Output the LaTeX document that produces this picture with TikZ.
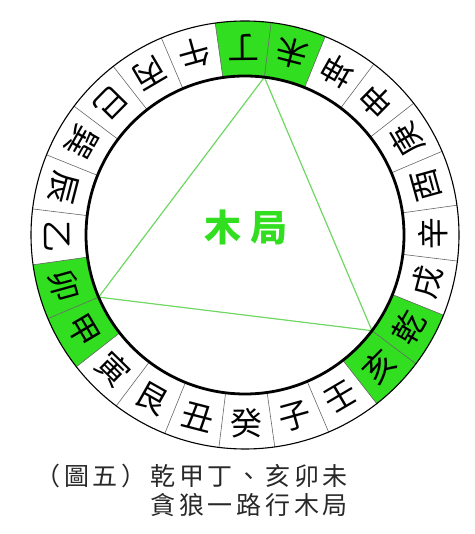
\documentclass[tikz,border=0pt]{standalone}
\usepackage{fontspec}
\newfontfamily\cjk{Noto Sans CJK TC}
\definecolor{ringgreen}{RGB}{50,222,32}
\definecolor{trigreen}{RGB}{112,214,100}
\definecolor{captiongray}{RGB}{40,40,40}

\begin{document}
\begin{tikzpicture}[x=1pt,y=1pt,
    sector/.style={fill=ringgreen},
    divider/.style={gray!80!black,line width=0.6pt},
    mountain/.style={font=\cjk\fontsize{32}{32}\selectfont,inner sep=0pt},
    caption/.style={font=\cjk\fontsize{25}{25}\selectfont\addfontfeature{LetterSpace=15},
      text=captiongray,inner sep=0pt,anchor=east}]
    \useasboundingbox (-245,-299) rectangle (229,235);
    
    % green sectors
    \foreach \k in {0,7,8,15,16,23}
    \fill[sector] ({83+15*\k}:214) arc[start angle={83+15*\k},delta angle=15,radius=214]
    -- ({98+15*\k}:159) arc[start angle={98+15*\k},delta angle=-15,radius=159] -- cycle;
    
    \foreach \k in {0,...,23}
    \draw[divider] ({83+15*\k}:159) -- ({83+15*\k}:214);
    
    % triangle
    \coordinate (ding) at (83:159);
    \coordinate (jia) at (203:159);
    \coordinate (qian) at (323:159);
    \draw[trigreen,line width=1.2pt] (ding) -- (jia) -- (qian) -- cycle;
    
    \draw[line width=1.1pt] (0,0) circle[radius=214];
    \draw[line width=2.8pt] (0,0) circle[radius=159];
    
    % 24 mountains
    \foreach \m [count=\k from 0] in {丁,午,丙,巳,巽,辰,乙,卯,甲,寅,艮,丑,癸,子,壬,亥,乾,戌,辛,酉,庚,申,坤,未}
    \node[mountain,rotate={180.5+15*\k}] (m\k) at ({90.5+15*\k}:188) {\m};
    
    \node[font=\cjk\bfseries\fontsize{37}{37}\selectfont,text=ringgreen,inner sep=0pt] (title) at (1,8) {木\hspace{9pt}局};
    \node[caption] (cap1) at (103,-241) {（圖五）乾甲丁、亥卯未};
    \node[caption] (cap2) at (103,-270) {貪狼一路行木局};
    
\end{tikzpicture}
\end{document}
